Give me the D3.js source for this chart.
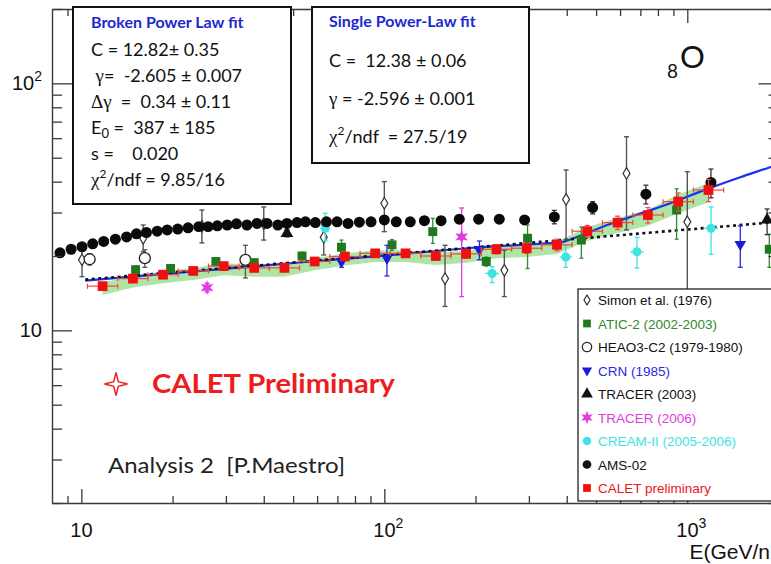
<!DOCTYPE html>
<html><head><meta charset="utf-8">
<script src="https://cdn.jsdelivr.net/npm/d3@7"></script>
<style>body{margin:0;background:#fff;} text{white-space:pre;}</style>
</head><body>
<script>
// ---------------- DATA ----------------
const xMajorTicks = [10, 100, 1000];
const xMinorTicks = [9, 20, 30, 40, 50, 60, 70, 80, 90, 200, 300, 400, 500, 600, 700, 800, 900, 2000];
const yMajorTicks = [10, 100];
const yMinorTicks = [2, 3, 4, 5, 6, 7, 8, 9, 20, 30, 40, 50, 60, 70, 80, 90, 200];

// AMS-02
const amsE = [8.5, 9.25, 10.05, 10.9, 11.85, 12.95, 14.1, 15.2, 16.4, 17.8, 19.2, 20.8, 22.5, 24.4, 26.2, 28.1, 30.3, 32.5, 35.2, 38.0, 41.0, 44.5, 47.7, 51.5, 54.9, 59.2, 64.4, 69.8, 75.9, 82.7, 90.4, 100, 109.5, 121.8, 135.6, 153.9, 176.8, 204.8, 239.6, 290.4, 364, 487, 730, 1197];
const amsF = [20.6, 21.3, 21.8, 22.4, 22.9, 23.4, 23.9, 24.6, 24.9, 25.2, 25.5, 25.7, 26.0, 26.3, 26.3, 26.5, 26.7, 27.0, 26.7, 27.1, 27.1, 26.7, 27.1, 27.3, 27.5, 27.3, 27.5, 27.5, 27.1, 27.4, 27.5, 28.0, 27.5, 27.5, 27.8, 27.8, 28.2, 28.2, 28.2, 28.0, 28.8, 31.4, 35.6, 39.7];
const amsErr = [0,0,0,0,0,0,0,0,0,0,0,0,0,0,0,0,0,0,0,0,0,0,0,0,0,0,0,0,0,0,0,0,0,0,0,0,0,0,0,0.5,1.8,1.8,3.1,5.3];

// CALET preliminary
const caletE = [11.75, 14.8, 18.6, 23.4, 29.5, 37.2, 46.8, 58.9, 74.1, 93.3, 117.5, 147.9, 186.2, 234.4, 295.1, 371.5, 467.7, 588.8, 741.3, 933.3, 1175];
const caletF = [15.1, 16.2, 16.8, 17.4, 18.2, 17.9, 17.9, 19.0, 19.9, 20.5, 20.5, 20.0, 20.4, 21.3, 21.5, 22.2, 25.2, 27.3, 29.3, 33.2, 37.0];
const caletErr = [0.3, 0.3, 0.3, 0.35, 0.35, 0.4, 0.4, 0.45, 0.5, 0.55, 0.6, 0.7, 0.8, 0.9, 1.0, 1.2, 1.4, 1.7, 2.1, 2.8, 3.8];
const caletSysLo = [13.9, 14.9, 15.5, 16.0, 16.7, 16.5, 16.5, 17.5, 18.3, 18.9, 18.9, 18.4, 18.8, 19.6, 19.8, 20.4, 23.0, 24.8, 26.5, 29.8, 33.0];
const caletSysHi = [15.6, 16.7, 17.3, 17.9, 18.7, 18.4, 18.4, 19.6, 20.5, 21.1, 21.1, 20.6, 21.0, 21.9, 22.1, 22.9, 26.2, 28.5, 30.8, 35.5, 39.5];

// Simon et al. (1976)
const simonE = [10.05, 16.0, 25.0, 40.0, 63.1, 100, 158.6, 249, 398, 630, 1000];
const simonF = [19.3, 23.6, 26.4, 27.0, 23.8, 32.7, 16.2, 17.5, 33.9, 43.2, 27.5];
const simonHi = [22.1, 26.7, 30.7, 31.6, 26.7, 40.0, 22.1, 21.1, 44.6, 60.8, 43.9];
const simonLo = [16.5, 20.8, 22.6, 23.2, 20.2, 25.1, 12.5, 13.7, 23.2, 25.5, 10.0];

// ATIC-2
const aticE = [15.1, 19.7, 27.8, 37.2, 53.5, 72.2, 106, 144.5, 217, 297, 447, 922, 1865];
const aticF = [17.6, 17.8, 19.0, 18.8, 20.0, 21.7, 22.2, 25.1, 19.0, 23.6, 23.2, 30.7, 21.3];
const aticHi = [18.2, 18.4, 19.6, 19.4, 20.7, 23.2, 23.3, 28.4, 19.8, 26.7, 26.2, 37.4, 24.5];
const aticLo = [17.0, 17.2, 18.4, 18.2, 19.3, 19.3, 21.1, 22.5, 18.2, 17.8, 19.6, 23.4, 18.0];

// HEAO3-C2
const heaoE = [10.65, 16.2, 34.8];
const heaoF = [19.4, 19.6, 19.3];
const heaoHi = [20.4, 21.2, 22.1];
const heaoLo = [18.4, 18.0, 16.3];

// CRN (1985)
const crnE = [72.2, 102, 206, 1496];
const crnF = [19.0, 19.6, 21.2, 22.3];
const crnHi = [20.2, 22.1, 23.0, 26.5];
const crnLo = [18.0, 16.6, 19.3, 18.0];

// TRACER (2003)
const tr03E = [47.7, 1834];
const tr03F = [24.7, 28.0];
const tr03Hi = [25.5, 31.0];
const tr03Lo = [23.9, 24.4];

// TRACER (2006)
const tr06E = [26.0, 180];
const tr06F = [14.9, 23.9];
const tr06Hi = [15.5, 31.3];
const tr06Lo = [14.3, 13.7];

// CREAM-II
const creamE = [63.8, 227, 397, 682, 1198];
const creamF = [25.9, 17.0, 19.8, 20.8, 25.9];
const creamHi = [29.8, 18.1, 22.0, 23.8, 31.6];
const creamLo = [23.0, 15.6, 18.0, 17.9, 20.3];
const creamEmin = [61.5, 215, 379, 648, 1137];
const creamEmax = [66.2, 239, 416, 718, 1262];

// Fits
const bplE = [10.3, 24.7, 57.0, 101.9, 197.7, 300, 381, 421, 544, 701, 902, 1160, 1495, 1895, 2000];
const bplF = [15.9, 17.4, 19.0, 20.1, 21.6, 22.3, 22.7, 23.6, 26.7, 29.7, 33.1, 37.3, 41.7, 46.0, 47.1];
const splE = [10.3, 100, 1000, 2000];
const splF = [16.05, 20.2, 25.6, 27.5];

const legendLabels = ["Simon et al. (1976)", "ATIC-2 (2002-2003)", "HEAO3-C2 (1979-1980)", "CRN (1985)", "TRACER (2003)", "TRACER (2006)", "CREAM-II (2005-2006)", "AMS-02", "CALET preliminary"];
const legendColors = ["#111", "#2e8b2e", "#111", "#2a2ae0", "#111", "#e23ce0", "#3fe3e3", "#111", "#e81818"];

// ---------------- CHART ----------------
const W = 771, H = 564;
const L = 52, R = 778.5, T = 9, B = 503;
const svg = d3.select("body").append("svg").attr("width", W).attr("height", H).style("display", "block");
const x = d3.scaleLog().domain([8, 2000]).range([L, R]);
const y = d3.scaleLog().domain([2, 200]).range([B, T]);

svg.append("defs").append("clipPath").attr("id", "clip")
  .append("rect").attr("x", L).attr("y", T).attr("width", R - L).attr("height", B - T);
const plot = svg.append("g").attr("clip-path", "url(#clip)");

const AX = "#3a3a3a";
function styleAxis(g) {
  g.selectAll("path.domain").attr("stroke", AX).attr("stroke-width", 1.4);
  g.selectAll(".tick line").attr("stroke", AX).attr("stroke-width", 1.3);
  g.selectAll(".tick text").remove();
}
svg.append("g").attr("transform", `translate(0,${B})`).call(d3.axisBottom(x).tickValues(xMajorTicks).tickSize(-14).tickSizeOuter(0)).call(styleAxis);
svg.append("g").attr("transform", `translate(0,${B})`).call(d3.axisBottom(x).tickValues(xMinorTicks).tickSize(-7).tickSizeOuter(0)).call(styleAxis).select("path.domain").remove();
svg.append("g").attr("transform", `translate(0,${T})`).call(d3.axisTop(x).tickValues(xMajorTicks).tickSize(-14).tickSizeOuter(0)).call(styleAxis);
svg.append("g").attr("transform", `translate(0,${T})`).call(d3.axisTop(x).tickValues(xMinorTicks).tickSize(-7).tickSizeOuter(0)).call(styleAxis).select("path.domain").remove();
svg.append("g").attr("transform", `translate(${L},0)`).call(d3.axisLeft(y).tickValues(yMajorTicks).tickSize(-20).tickSizeOuter(0)).call(styleAxis);
svg.append("g").attr("transform", `translate(${L},0)`).call(d3.axisLeft(y).tickValues(yMinorTicks).tickSize(-10).tickSizeOuter(0)).call(styleAxis).select("path.domain").remove();
svg.append("g").attr("transform", `translate(${R},0)`).call(d3.axisRight(y).tickValues(yMajorTicks).tickSize(-20).tickSizeOuter(0)).call(styleAxis);
svg.append("g").attr("transform", `translate(${R},0)`).call(d3.axisRight(y).tickValues(yMinorTicks).tickSize(-10).tickSizeOuter(0)).call(styleAxis).select("path.domain").remove();

const AF = "Liberation Sans, Arial, sans-serif";
xMajorTicks.forEach((v, i) => {
  const t = svg.append("text").attr("font-family", AF).attr("font-size", 20).attr("fill", "#111")
    .attr("x", x(v) - 11).attr("y", 537);
  t.append("tspan").text("10");
  if (i > 0) t.append("tspan").attr("font-size", 14).attr("dy", -9).text(String(i + 1));
});
yMajorTicks.forEach((v, i) => {
  const t = svg.append("text").attr("font-family", AF).attr("font-size", 20).attr("fill", "#111")
    .attr("text-anchor", "end").attr("x", 42).attr("y", y(v) + 7);
  t.append("tspan").text("10");
  if (i > 0) t.append("tspan").attr("font-size", 14).attr("dy", -9).text(String(i + 1));
});
svg.append("text").attr("font-family", AF).attr("font-size", 21).attr("fill", "#111")
  .attr("text-anchor", "end").attr("x", 770).attr("y", 559).text("E(GeV/n");

// ---- systematic band
const band = d3.area().x((d, i) => x(caletE[i])).y0((d, i) => y(caletSysLo[i])).y1((d, i) => y(caletSysHi[i]));
plot.append("path").attr("d", band(caletE)).attr("fill", "#aee5a6").attr("stroke", "none");

function vbars(E, lo, hi, color, cap, w) {
  E.forEach((e, i) => {
    if (hi[i] === lo[i]) return;
    plot.append("line").attr("x1", x(e)).attr("x2", x(e)).attr("y1", y(lo[i])).attr("y2", y(hi[i]))
      .attr("stroke", color).attr("stroke-width", w);
    if (cap > 0) [lo[i], hi[i]].forEach(v => plot.append("line").attr("x1", x(e) - cap).attr("x2", x(e) + cap)
      .attr("y1", y(v)).attr("y2", y(v)).attr("stroke", color).attr("stroke-width", w));
  });
}
function hbars(F, emin, emax, color, cap, w) {
  F.forEach((f, i) => {
    plot.append("line").attr("x1", x(emin[i])).attr("x2", x(emax[i])).attr("y1", y(f)).attr("y2", y(f))
      .attr("stroke", color).attr("stroke-width", w);
    if (cap > 0) [emin[i], emax[i]].forEach(v => plot.append("line").attr("x1", x(v)).attr("x2", x(v))
      .attr("y1", y(f) - cap).attr("y2", y(f) + cap).attr("stroke", color).attr("stroke-width", w));
  });
}
function symbols(E, F, type, size, fill, stroke, sw, rot) {
  E.forEach((e, i) => {
    plot.append("path").attr("d", d3.symbol().type(type).size(size)())
      .attr("transform", `translate(${x(e)},${y(F[i])})` + (rot ? ` rotate(${rot})` : ""))
      .attr("fill", fill).attr("stroke", stroke).attr("stroke-width", sw);
  });
}
const diamond = { draw(ctx, size) { const h = Math.sqrt(size) * 0.75, w = h * 0.6; ctx.moveTo(0, -h); ctx.lineTo(w, 0); ctx.lineTo(0, h); ctx.lineTo(-w, 0); ctx.closePath(); } };
const star6 = { draw(ctx, size) { const ro = Math.sqrt(size) * 0.7, ri = ro * 0.45; for (let k = 0; k < 12; k++) { const a = Math.PI / 6 * k - Math.PI / 2; const r = k % 2 ? ri : ro; const px = r * Math.cos(a), py = r * Math.sin(a); k ? ctx.lineTo(px, py) : ctx.moveTo(px, py); } ctx.closePath(); } };

// ---- fits
const lineGen = d3.line().x(d => x(d[0])).y(d => y(d[1])).curve(d3.curveMonotoneX);
plot.append("path").attr("d", lineGen(bplE.map((e, i) => [e, bplF[i]]))).attr("fill", "none")
  .attr("stroke", "#1f2ef0").attr("stroke-width", 2.2);
plot.append("path").attr("d", lineGen(splE.map((e, i) => [e, splF[i]]))).attr("fill", "none")
  .attr("stroke", "#111").attr("stroke-width", 2.6).attr("stroke-dasharray", "3,3.5");

// ---- other datasets
vbars(simonE, simonLo, simonHi, "#555", 2.5, 1.4);
symbols(simonE, simonF, diamond, 60, "#fff", "#333", 1.2);

vbars(heaoE, heaoLo, heaoHi, "#555", 2.5, 1.3);
symbols(heaoE, heaoF, d3.symbolCircle, 95, "#fff", "#222", 1.3);

vbars(aticE, aticLo, aticHi, "#2e8b2e", 2, 1.3);
symbols(aticE, aticF, d3.symbolSquare, 80, "#1f7a1f", "none", 0);

vbars(crnE, crnLo, crnHi, "#2a2ae0", 2.5, 1.3);
symbols(crnE, crnF, d3.symbolTriangle, 60, "#1a1ad8", "none", 0, 180);

vbars(tr03E, tr03Lo, tr03Hi, "#333", 2.5, 1.3);
symbols(tr03E, tr03F, d3.symbolTriangle, 70, "#111", "none", 0);

vbars(tr06E, tr06Lo, tr06Hi, "#e23ce0", 2.5, 1.3);
symbols(tr06E, tr06F, star6, 110, "#e23ce0", "none", 0);

vbars(creamE, creamLo, creamHi, "#3fe3e3", 2.5, 1.3);
hbars(creamF, creamEmin, creamEmax, "#3fe3e3", 0, 1.3);
symbols(creamE, creamF, d3.symbolCircle, 65, "#3fe3e3", "none", 0);

vbars(amsE, amsF.map((f, i) => f - amsErr[i]), amsF.map((f, i) => f + amsErr[i]), "#333", 2.5, 1.3);
symbols(amsE, amsF, d3.symbolCircle, 95, "#0a0a0a", "none", 0);

// CALET: bin edges from geometric midpoints of neighbouring bin centres
const caletEmin = caletE.map((e, i) => i > 0 ? Math.sqrt(e * caletE[i - 1]) : e * e / Math.sqrt(e * caletE[1]));
const caletEmax = caletE.map((e, i) => i < caletE.length - 1 ? Math.sqrt(e * caletE[i + 1]) : e * e / Math.sqrt(e * caletE[i - 1]));
hbars(caletF, caletEmin, caletEmax, "#ee4a3a", 2.5, 1.2);
vbars(caletE, caletF.map((f, i) => f - caletErr[i]), caletF.map((f, i) => f + caletErr[i]), "#ee4a3a", 2.5, 1.2);
symbols(caletE, caletF, d3.symbolSquare, 95, "#f01010", "none", 0);

// ---- annotation boxes
const BF = "Lato, 'Open Sans', sans-serif";
const SF = "'Liberation Serif', 'DejaVu Serif', serif";
svg.append("rect").attr("x", 73).attr("y", 7).attr("width", 218).attr("height", 197)
  .attr("fill", "#fff").attr("stroke", "#111").attr("stroke-width", 2);
svg.append("rect").attr("x", 312).attr("y", 7).attr("width", 217).attr("height", 156)
  .attr("fill", "#fff").attr("stroke", "#111").attr("stroke-width", 2);

function txt(xp, yp, size, parts, opts = {}) {
  const t = svg.append("text").attr("x", xp).attr("y", yp).attr("font-family", BF).attr("font-size", size)
    .attr("fill", opts.fill || "#111").attr("font-weight", opts.bold ? "bold" : "normal");
  parts.forEach(p => {
    if (typeof p === "string") t.append("tspan").text(p);
    else {
      const s = t.append("tspan").text(p.t);
      if (p.serif) s.attr("font-family", SF);
      if (p.size) s.attr("font-size", p.size);
      if (p.dy) s.attr("dy", p.dy);
    }
  });
  return t;
}
txt(91, 28, 16, ["Broken Power Law fit"], { bold: true, fill: "#1c28d0" });
txt(91, 56, 18, ["C = 12.82", "±", " 0.35"]);
txt(91, 82, 18, [" ", { t: "γ", serif: true, size: 19 }, "=  -2.605 ± 0.007"]);
txt(91, 108, 18, [{ t: "Δγ", serif: true, size: 19 }, "  =  0.34 ± 0.11"]);
txt(91, 134, 18, ["E", { t: "0", size: 13, dy: 4 }, { t: " =  387 ± 185", dy: -4 }]);
txt(91, 160, 18, ["s =    0.020"]);
txt(91, 186, 18, [{ t: "χ", serif: true, size: 19 }, { t: "2", size: 12, dy: -8 }, { t: "/ndf = 9.85/16", dy: 8 }]);

txt(329, 27, 16, ["Single Power-Law fit"], { bold: true, fill: "#1c28d0" });
txt(329, 67, 18, ["C =  12.38 ± 0.06"]);
txt(329, 105, 18, [{ t: "γ", serif: true, size: 19 }, " = -2.596 ± 0.001"]);
txt(329, 143, 18, [{ t: "χ", serif: true, size: 19 }, { t: "2", size: 12, dy: -8 }, { t: "/ndf  = 27.5/19", dy: 8 }]);

// element label
svg.append("text").attr("x", 667).attr("y", 78).attr("font-family", BF).attr("font-size", 19).attr("fill", "#111").text("8");
svg.append("text").attr("x", 680).attr("y", 68).attr("font-family", BF).attr("font-size", 31).attr("fill", "#111").text("O");

// CALET Preliminary
const sc = [116, 384], ro = 11.5, ri = 3.2;
const starPts = d3.range(8).map(k => { const a = Math.PI / 4 * k - Math.PI / 2; const r = k % 2 ? ri : ro; return [sc[0] + r * Math.cos(a), sc[1] + r * Math.sin(a)]; });
svg.append("path").attr("d", d3.line()(starPts) + "Z").attr("fill", "none").attr("stroke", "#ee2222").attr("stroke-width", 1.5);
svg.append("text").attr("x", 152).attr("y", 393).attr("font-family", BF).attr("font-size", 26).attr("font-weight", "bold")
  .attr("fill", "#ee1c1c").attr("textLength", 243).attr("lengthAdjust", "spacingAndGlyphs").text("CALET Preliminary");
svg.append("text").attr("x", 108).attr("y", 473).attr("font-family", BF).attr("font-size", 21).attr("fill", "#222")
  .attr("textLength", 237).attr("lengthAdjust", "spacingAndGlyphs").text("Analysis 2  [P.Maestro]");

// ---- legend
svg.append("rect").attr("x", 578).attr("y", 289).attr("width", 220).attr("height", 212)
  .attr("fill", "#fff").attr("stroke", "#222").attr("stroke-width", 1.3);
const legSym = [
  { type: diamond, size: 45, fill: "#fff", stroke: "#222", sw: 1.1 },
  { type: d3.symbolSquare, size: 60, fill: "#1f7a1f" },
  { type: d3.symbolCircle, size: 70, fill: "#fff", stroke: "#222", sw: 1.2 },
  { type: d3.symbolTriangle, size: 45, fill: "#1a1ad8", rot: 180 },
  { type: d3.symbolTriangle, size: 60, fill: "#111" },
  { type: star6, size: 90, fill: "#e23ce0" },
  { type: d3.symbolCircle, size: 55, fill: "#3fe3e3" },
  { type: d3.symbolCircle, size: 60, fill: "#111" },
  { type: d3.symbolSquare, size: 60, fill: "#f01010" }
];
legendLabels.forEach((lab, i) => {
  const yy = 300 + i * 23.5;
  const s = legSym[i];
  svg.append("path").attr("d", d3.symbol().type(s.type).size(s.size)())
    .attr("transform", `translate(587,${yy})` + (s.rot ? ` rotate(${s.rot})` : ""))
    .attr("fill", s.fill).attr("stroke", s.stroke || "none").attr("stroke-width", s.sw || 0);
  svg.append("text").attr("x", 598).attr("y", yy + 5).attr("font-family", AF).attr("font-size", 13.5)
    .attr("fill", legendColors[i]).text(lab);
});
</script>
</body></html>
